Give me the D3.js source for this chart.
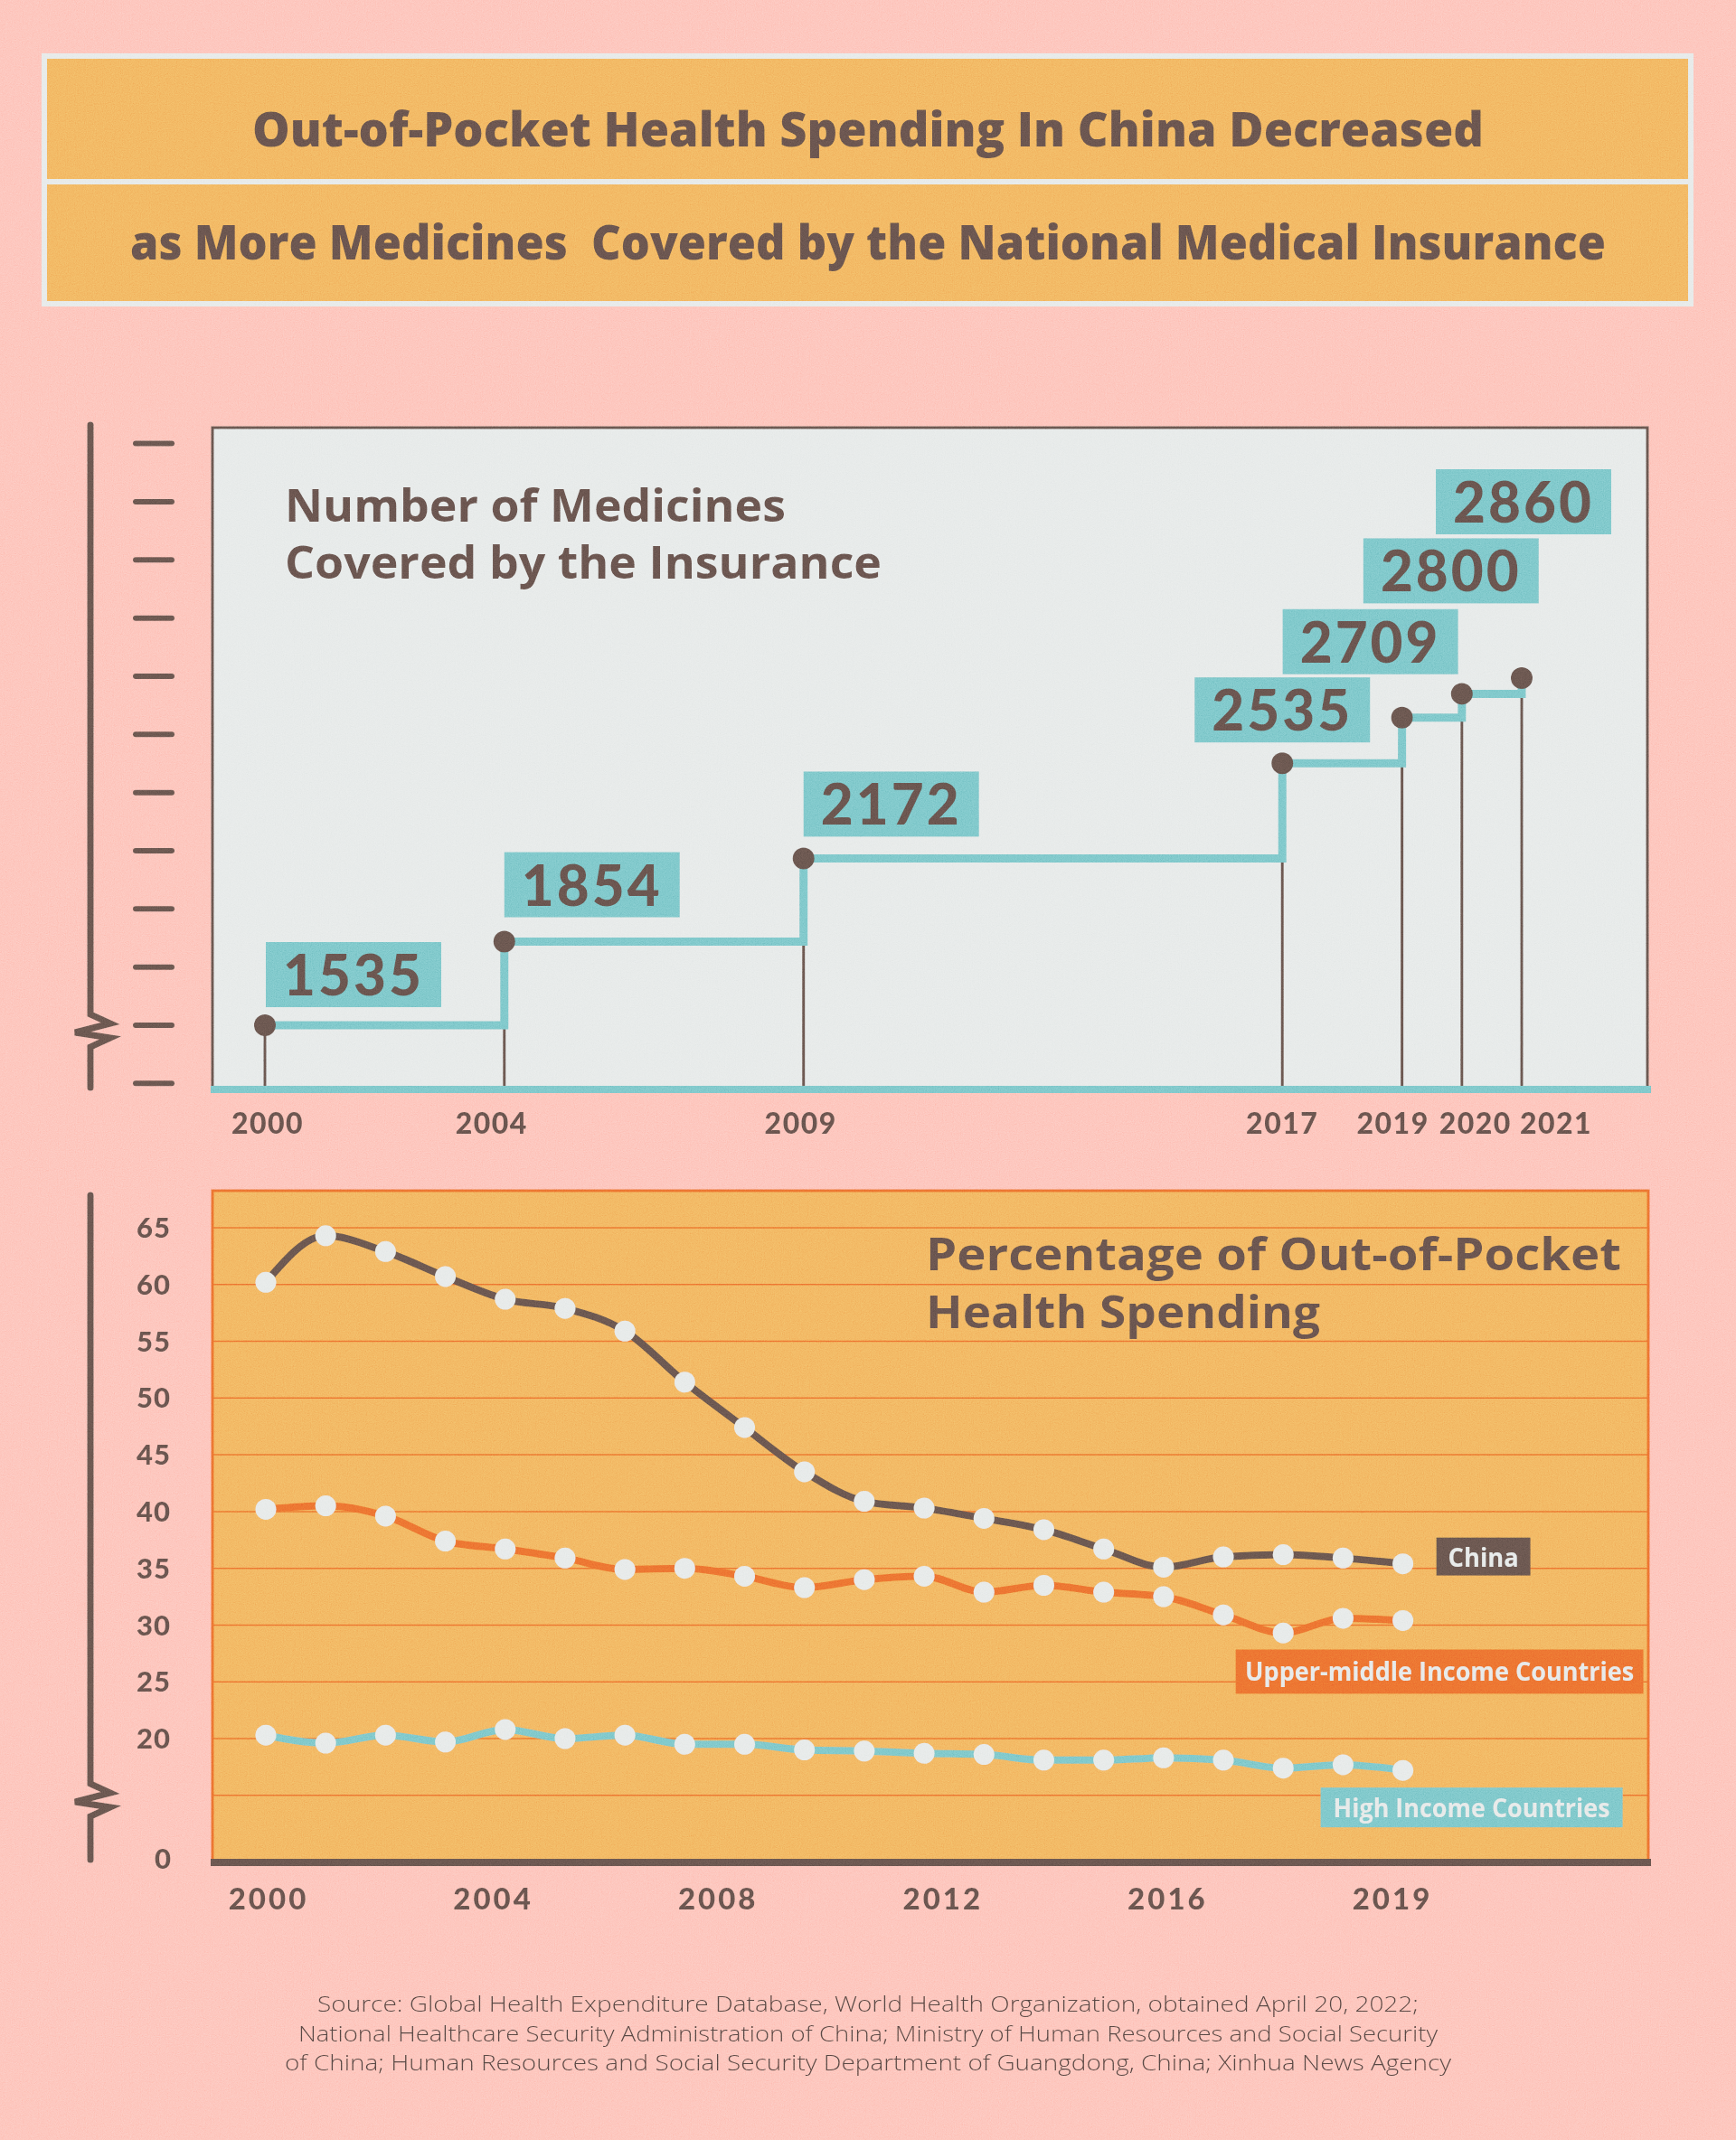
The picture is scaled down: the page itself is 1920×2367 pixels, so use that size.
<!DOCTYPE html>
<html>
<head>
<meta charset="utf-8">
<script src="https://cdn.jsdelivr.net/npm/d3@7"></script>
<style>
  html, body { margin: 0; padding: 0; background: #fdb9ae; }
  svg { display: block; }
  text { font-family: Lato, "Open Sans", sans-serif; }
  text.os { font-family: "Open Sans", Lato, sans-serif; }
</style>
</head>
<body>
<script>
// ---------------- DATA ----------------
const titleLines = ["Out-of-Pocket Health Spending In China Decreased",
                    "as More Medicines  Covered by the National Medical Insurance"];

const medTitle = ["Number of Medicines", "Covered by the Insurance"];
const medYears = [2000, 2004, 2009, 2017, 2019, 2020, 2021];
const medCounts = [1535, 1854, 2172, 2535, 2709, 2800, 2860];

const oopTitle = ["Percentage of Out-of-Pocket", "Health Spending"];
const oopYears = [2000, 2001, 2002, 2003, 2004, 2005, 2006, 2007, 2008, 2009,
                  2010, 2011, 2012, 2013, 2014, 2015, 2016, 2017, 2018, 2019];
const chinaOOP = [60.2, 64.3, 62.9, 60.7, 58.7, 57.9, 55.9, 51.4, 47.4, 43.5,
                  40.9, 40.3, 39.4, 38.4, 36.7, 35.1, 36.0, 36.2, 35.9, 35.4];
const upperMiddleOOP = [40.2, 40.5, 39.6, 37.4, 36.7, 35.9, 34.9, 35.0, 34.3, 33.3,
                        34.0, 34.3, 32.9, 33.5, 32.9, 32.5, 30.9, 29.3, 30.6, 30.4];
const highIncomeOOP = [20.3, 19.6, 20.3, 19.7, 20.8, 20.0, 20.3, 19.5, 19.5, 19.0,
                       18.9, 18.7, 18.6, 18.1, 18.1, 18.3, 18.1, 17.4, 17.7, 17.2];
const seriesNames = ["China", "Upper-middle Income Countries", "High Income Countries"];
const oopTickValues = [20, 25, 30, 35, 40, 45, 50, 55, 60, 65];
const oopXTickLabels = ["2000", "2004", "2008", "2012", "2016", "2019"];

const sourceLines = [
  "Source: Global Health Expenditure Database, World Health Organization, obtained April 20, 2022;",
  "National Healthcare Security Administration of China; Ministry of Human Resources and Social Security",
  "of China; Human Resources and Social Security Department of Guangdong, China; Xinhua News Agency"
];

// ---------------- STYLE / LAYOUT ----------------
const C = {
  bg: "#fdb9ae", orange: "#f0a955", gray: "#e2e6e5", teal: "#6cbcbf",
  brown: "#5b4a44", red: "#e9632a", text: "#5a4843"
};
const W = 1920, H = 2367;

function fit(sel, widths) {
  sel.attr("textLength", (d, i) => widths[i]).attr("lengthAdjust", "spacingAndGlyphs");
}

const svg = d3.select("body").append("svg")
  .attr("width", W).attr("height", H).attr("viewBox", `0 0 ${W} ${H}`);

const defs = svg.append("defs");
const flt = defs.append("filter").attr("id", "grain")
  .attr("x", 0).attr("y", 0).attr("width", W).attr("height", H)
  .attr("filterUnits", "userSpaceOnUse");
flt.append("feTurbulence").attr("type", "fractalNoise").attr("baseFrequency", 0.9)
  .attr("numOctaves", 2).attr("seed", 3).attr("stitchTiles", "stitch");
flt.append("feColorMatrix").attr("type", "matrix")
  .attr("values", "0.33 0.33 0.33 0 0  0.33 0.33 0.33 0 0  0.33 0.33 0.33 0 0  0 0 0 0 1");

svg.append("rect").attr("width", W).attr("height", H).attr("fill", C.bg);

// ---------------- TITLE BOX ----------------
const tb = svg.append("g");
tb.append("rect").attr("x", 49).attr("y", 62).attr("width", 1821).attr("height", 274)
  .attr("fill", C.orange).attr("stroke", C.gray).attr("stroke-width", 6);
tb.append("line").attr("x1", 49).attr("x2", 1870).attr("y1", 201).attr("y2", 201)
  .attr("stroke", C.gray).attr("stroke-width", 6);
tb.selectAll("text.title").data(titleLines).join("text")
  .attr("class", "title os")
  .attr("x", 960).attr("y", (d, i) => [162, 287][i])
  .attr("text-anchor", "middle")
  .style("white-space", "pre")
  .attr("font-size", 53).attr("font-weight", 800).attr("fill", C.text)
  .text(d => d)
  .call(fit, [1362, 1632]);

function drawBrokenAxis(g, x, y0, y1, zz) {
  const pts = [[x, y0], [x, zz - 18], [x + 22, zz - 8], [x - 17, zz + 2],
               [x + 22, zz + 8], [x, zz + 18], [x, y1]];
  g.append("path").attr("d", d3.line()(pts))
    .attr("fill", "none").attr("stroke", C.brown).attr("stroke-width", 7)
    .attr("stroke-linecap", "round").attr("stroke-linejoin", "miter");
}

// ---------------- TOP CHART ----------------
const P1 = { left: 235, right: 1822, top: 473, bottom: 1205 };
const xYear = d3.scaleLinear().domain([2000, 2021]).range([293, 1683]);
const yMed = d3.scaleLinear().domain([1535, 2860]).range([1134, 750]);

const g1 = svg.append("g");
g1.append("rect").attr("x", P1.left).attr("y", P1.top)
  .attr("width", P1.right - P1.left).attr("height", P1.bottom - P1.top)
  .attr("fill", C.gray);
g1.append("path")
  .attr("d", `M${P1.left},${P1.bottom} V${P1.top} H${P1.right} V${P1.bottom}`)
  .attr("fill", "none").attr("stroke", C.brown).attr("stroke-width", 3);

const medTickStep = 222;
const medTicks = d3.range(-1, 11).map(k => 1535 + k * medTickStep);
g1.selectAll("line.mtick").data(medTicks).join("line")
  .attr("class", "mtick")
  .attr("x1", 150).attr("x2", 190)
  .attr("y1", d => yMed(d)).attr("y2", d => yMed(d))
  .attr("stroke", C.brown).attr("stroke-width", 6).attr("stroke-linecap", "round");
drawBrokenAxis(g1, 100, 470, 1203, yMed(1535) + 6);

const medData = medYears.map((y, i) => ({ year: y, value: medCounts[i] }));

g1.selectAll("line.stem").data(medData).join("line")
  .attr("class", "stem")
  .attr("x1", d => xYear(d.year)).attr("x2", d => xYear(d.year))
  .attr("y1", d => yMed(d.value)).attr("y2", P1.bottom)
  .attr("stroke", C.brown).attr("stroke-width", 3);

g1.append("path").datum(medData)
  .attr("d", d3.line().x(d => xYear(d.year)).y(d => yMed(d.value)).curve(d3.curveStepAfter))
  .attr("fill", "none").attr("stroke", C.teal).attr("stroke-width", 9)
  .attr("stroke-linejoin", "miter");

g1.append("line").attr("x1", P1.left - 2).attr("x2", P1.right + 4)
  .attr("y1", P1.bottom).attr("y2", P1.bottom)
  .attr("stroke", C.teal).attr("stroke-width", 8);

g1.selectAll("circle.md").data(medData).join("circle")
  .attr("class", "md")
  .attr("cx", d => xYear(d.year)).attr("cy", d => yMed(d.value)).attr("r", 12)
  .attr("fill", C.brown);

const medLabelOffset = [[1, -20], [0, -27], [0, -24], [-97, -23], [-132, -48], [-109, -100], [-95, -159]];
const boxW = 194, boxH = 72;
const lab = g1.selectAll("g.mlab").data(medData).join("g")
  .attr("class", "mlab")
  .attr("transform", (d, i) => `translate(${xYear(d.year) + medLabelOffset[i][0]},${yMed(d.value) + medLabelOffset[i][1] - boxH})`);
lab.append("rect").attr("width", boxW).attr("height", boxH).attr("fill", C.teal);
lab.append("text").attr("x", boxW / 2).attr("y", 59)
  .attr("text-anchor", "middle").attr("font-size", 62).attr("font-weight", 900)
  .attr("letter-spacing", 3)
  .attr("fill", C.text).text(d => d.value);

const medXLabelShift = [3, -14, -3, 0, -10, 15, 38];
g1.selectAll("text.mx").data(medData).join("text")
  .attr("class", "mx")
  .attr("x", (d, i) => xYear(d.year) + medXLabelShift[i]).attr("y", 1254)
  .attr("text-anchor", "middle").attr("font-size", 32).attr("font-weight", 900)
  .attr("letter-spacing", 1.5)
  .attr("fill", C.text).text(d => d.year);

g1.selectAll("text.mt").data(medTitle).join("text")
  .attr("class", "mt os")
  .attr("x", 315).attr("y", (d, i) => 577 + i * 63)
  .attr("font-size", 50).attr("font-weight", 700).attr("fill", C.text)
  .text(d => d)
  .call(fit, [554, 660]);

// ---------------- BOTTOM CHART ----------------
const P2 = { left: 235, right: 1823, top: 1317, bottom: 2060 };
const yPct = d3.scaleLinear().domain([20, 65]).range([1923, 1358]);
const g2 = svg.append("g");
g2.append("rect").attr("x", P2.left).attr("y", P2.top)
  .attr("width", P2.right - P2.left).attr("height", P2.bottom - P2.top)
  .attr("fill", C.orange);

g2.selectAll("line.grid").data([15].concat(oopTickValues)).join("line")
  .attr("class", "grid")
  .attr("x1", P2.left).attr("x2", P2.right)
  .attr("y1", d => yPct(d)).attr("y2", d => yPct(d))
  .attr("stroke", C.red).attr("stroke-width", 1.5);

g2.append("path")
  .attr("d", `M${P2.left},${P2.bottom} V${P2.top} H${P2.right} V${P2.bottom}`)
  .attr("fill", "none").attr("stroke", C.red).attr("stroke-width", 3);

g2.selectAll("text.yl").data(oopTickValues).join("text")
  .attr("class", "yl")
  .attr("x", 189).attr("y", d => yPct(d)).attr("dy", "0.36em")
  .attr("text-anchor", "end").attr("font-size", 31).attr("font-weight", 900)
  .attr("letter-spacing", 1)
  .attr("fill", C.text).text(d => d);
g2.append("text").attr("x", 189).attr("y", 2056).attr("dy", "0.36em")
  .attr("text-anchor", "end").attr("font-size", 31).attr("font-weight", 900)
  .attr("fill", C.text).text("0");

drawBrokenAxis(g2, 100, 1322, 2057, 1991);

const seriesVals = [chinaOOP, upperMiddleOOP, highIncomeOOP];
const seriesColors = [C.brown, C.red, C.teal];
const xPct = d3.scaleLinear().domain([2000, 2021]).range([294, 1684]);
const lineGen = d3.line().x(d => xPct(d.year)).y(d => yPct(d.value)).curve(d3.curveMonotoneX);
const series = seriesVals.map((vals, k) => ({
  name: seriesNames[k], color: seriesColors[k],
  pts: oopYears.map((y, i) => ({ year: y, value: vals[i] }))
}));
const sg = g2.selectAll("g.series").data(series).join("g").attr("class", "series");
sg.append("path").attr("d", d => lineGen(d.pts))
  .attr("fill", "none").attr("stroke", d => d.color).attr("stroke-width", 8)
  .attr("stroke-linecap", "round").attr("stroke-linejoin", "round");
sg.selectAll("circle").data(d => d.pts).join("circle")
  .attr("cx", d => xPct(d.year)).attr("cy", d => yPct(d.value)).attr("r", 11.5)
  .attr("fill", C.gray);

const seriesLabel = [
  { dx: 37, dy: -29, w: 104, h: 42, fs: 29, ty: 32, tw: 78 },
  { dx: -185, dy: 32, w: 451, h: 49, fs: 29, ty: 35, tw: 430 },
  { dx: -91, dy: 19, w: 334, h: 44, fs: 29, ty: 33, tw: 306 }
];
const sl = g2.selectAll("g.slab").data(series).join("g").attr("class", "slab")
  .attr("transform", (d, i) => {
    const last = d.pts[d.pts.length - 1];
    return `translate(${xPct(last.year) + seriesLabel[i].dx},${yPct(last.value) + seriesLabel[i].dy})`;
  });
sl.append("rect").attr("width", (d, i) => seriesLabel[i].w).attr("height", (d, i) => seriesLabel[i].h)
  .attr("fill", d => d.color);
sl.append("text").attr("class", "os")
  .attr("x", (d, i) => seriesLabel[i].w / 2).attr("y", (d, i) => seriesLabel[i].ty)
  .attr("text-anchor", "middle")
  .attr("font-size", (d, i) => seriesLabel[i].fs).attr("font-weight", 700)
  .attr("fill", C.gray).text(d => d.name)
  .call(fit, seriesLabel.map(s => s.tw));

g2.append("line").attr("x1", P2.left - 2).attr("x2", P2.right + 3)
  .attr("y1", P2.bottom).attr("y2", P2.bottom)
  .attr("stroke", C.brown).attr("stroke-width", 8);

const xLab = d3.scalePoint().domain(oopXTickLabels).range([297, 1540]);
g2.selectAll("text.bx").data(oopXTickLabels).join("text")
  .attr("class", "bx")
  .attr("x", d => xLab(d)).attr("y", 2112)
  .attr("text-anchor", "middle").attr("font-size", 33).attr("font-weight", 900)
  .attr("letter-spacing", 3)
  .attr("fill", C.text).text(d => d);

g2.selectAll("text.bt").data(oopTitle).join("text")
  .attr("class", "bt os")
  .attr("x", 1024).attr("y", (d, i) => 1405 + i * 64)
  .attr("font-size", 50).attr("font-weight", 700).attr("fill", C.text)
  .text(d => d)
  .call(fit, [769, 436]);

// ---------------- SOURCE ----------------
svg.selectAll("text.src").data(sourceLines).join("text")
  .attr("class", "src os")
  .attr("x", 960).attr("y", (d, i) => 2225 + i * 32.5)
  .attr("text-anchor", "middle").attr("font-size", 24).attr("font-weight", 300)
  .attr("fill", "#4a3c39").text(d => d)
  .call(fit, [1218, 1260, 1290]);

// ---------------- GRAIN OVERLAY ----------------
svg.append("rect").attr("width", W).attr("height", H)
  .attr("filter", "url(#grain)")
  .style("mix-blend-mode", "overlay").attr("opacity", 0.45)
  .attr("pointer-events", "none");
</script>
</body>
</html>
